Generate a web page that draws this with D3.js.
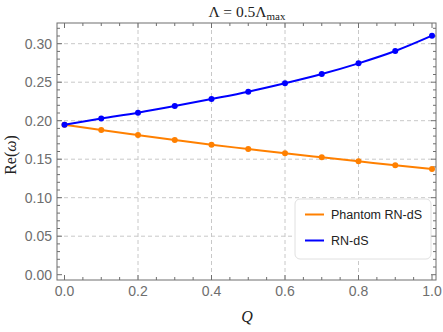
<!DOCTYPE html>
<html>
<head>
<meta charset="utf-8">
<script src="https://cdn.jsdelivr.net/npm/d3@7"></script>
<style>
  body { margin: 0; background: #fff; }
  svg { display: block; }
</style>
</head>
<body>
<div id="chart"></div>
<script>
// --- Data ---
const qValues = [0.0, 0.1, 0.2, 0.3, 0.4, 0.5, 0.6, 0.7, 0.8, 0.9, 1.0];
const rnDS = [0.1948, 0.2028, 0.2104, 0.2190, 0.2282, 0.2377, 0.2486, 0.2606, 0.2745, 0.2905, 0.3104];
const phantomRnDS = [0.1948, 0.1879, 0.1814, 0.1750, 0.1688, 0.1632, 0.1576, 0.1524, 0.1473, 0.1421, 0.1373];
const xTicks = [0.0, 0.2, 0.4, 0.6, 0.8, 1.0];
const yTicks = [0.00, 0.05, 0.10, 0.15, 0.20, 0.25, 0.30];
const xGrid = [0.2, 0.4, 0.6, 0.8];
const yGrid = [0.05, 0.10, 0.15, 0.20, 0.25, 0.30];
const seriesNames = ["Phantom RN-dS", "RN-dS"];

const width = 443, height = 332;
const frame = { left: 57, right: 436, top: 23, bottom: 280 };

const svg = d3.select("#chart").append("svg")
    .attr("width", width)
    .attr("height", height);

// scales (frame pads a bit around the data range, like Mathematica)
const x = d3.scaleLinear()
    .domain([0, 1])
    .range([64.5, 432]);
const y = d3.scaleLinear()
    .domain([0, 0.30])
    .range([274.7, 43.7]);

const gray = "#6e6e6e";
const gridColor = "#c8c8c8";

// --- Grid ---
const grid = svg.append("g");
xGrid.forEach(t => {
    grid.append("line")
        .attr("x1", x(t)).attr("x2", x(t))
        .attr("y1", frame.top).attr("y2", frame.bottom)
        .attr("stroke", gridColor).attr("stroke-dasharray", "4,3").attr("stroke-width", 1);
});
yGrid.forEach(t => {
    grid.append("line")
        .attr("x1", frame.left).attr("x2", frame.right)
        .attr("y1", y(t)).attr("y2", y(t))
        .attr("stroke", gridColor).attr("stroke-dasharray", "4,3").attr("stroke-width", 1);
});

// --- Frame ticks (all four sides) ---
const ticks = svg.append("g").attr("stroke", gray).attr("stroke-width", 1);
const xMinor = d3.range(0, 1.0001, 0.05);
xMinor.forEach(t => {
    const major = xTicks.some(m => Math.abs(m - t) < 1e-6);
    const len = major ? 5 : 3;
    const px = x(t);
    ticks.append("line").attr("x1", px).attr("x2", px).attr("y1", frame.bottom).attr("y2", frame.bottom - len);
    ticks.append("line").attr("x1", px).attr("x2", px).attr("y1", frame.top).attr("y2", frame.top + len);
});
const yMinor = d3.range(0, 0.3201, 0.01);
yMinor.forEach(t => {
    const major = yTicks.some(m => Math.abs(m - t) < 1e-6);
    const len = major ? 5 : 3;
    const py = y(t);
    ticks.append("line").attr("x1", frame.left).attr("x2", frame.left + len).attr("y1", py).attr("y2", py);
    ticks.append("line").attr("x1", frame.right).attr("x2", frame.right - len).attr("y1", py).attr("y2", py);
});

// frame rectangle
svg.append("rect")
    .attr("x", frame.left).attr("y", frame.top)
    .attr("width", frame.right - frame.left)
    .attr("height", frame.bottom - frame.top)
    .attr("fill", "none").attr("stroke", gray).attr("stroke-width", 1);

// --- Tick labels ---
const labelFont = "Liberation Sans, Arial, sans-serif";
svg.append("g").selectAll("text").data(xTicks).join("text")
    .attr("x", d => x(d)).attr("y", 296)
    .attr("text-anchor", "middle")
    .attr("font-family", labelFont).attr("font-size", 14)
    .attr("fill", gray)
    .text(d => d3.format(".1f")(d));
svg.append("g").selectAll("text").data(yTicks).join("text")
    .attr("x", 52).attr("y", d => y(d) + 5)
    .attr("text-anchor", "end")
    .attr("font-family", labelFont).attr("font-size", 14)
    .attr("fill", gray)
    .text(d => d3.format(".2f")(d));

// --- Series ---
const series = [
    { name: seriesNames[0], values: phantomRnDS, color: "#ff8000" },
    { name: seriesNames[1], values: rnDS, color: "#0000ff" }
];
const line = d3.line()
    .x((d, i) => x(qValues[i]))
    .y(d => y(d))
    .curve(d3.curveMonotoneX);

series.forEach(s => {
    svg.append("path")
        .attr("d", line(s.values))
        .attr("fill", "none")
        .attr("stroke", s.color)
        .attr("stroke-width", 2);
    svg.append("g").selectAll("circle").data(s.values).join("circle")
        .attr("cx", (d, i) => x(qValues[i]))
        .attr("cy", d => y(d))
        .attr("r", 3)
        .attr("fill", s.color);
});

// --- Legend ---
const legend = svg.append("g");
legend.append("rect")
    .attr("x", 295).attr("y", 199)
    .attr("width", 136).attr("height", 60)
    .attr("rx", 5).attr("ry", 5)
    .attr("fill", "#fff")
    .attr("stroke", "#e0e0e0").attr("stroke-width", 1);
series.forEach((s, i) => {
    const ly = 214.5 + i * 26;
    legend.append("line")
        .attr("x1", 305).attr("x2", 324)
        .attr("y1", ly).attr("y2", ly)
        .attr("stroke", s.color).attr("stroke-width", 2);
    legend.append("text")
        .attr("x", 331).attr("y", ly + 4.5)
        .attr("font-family", labelFont).attr("font-size", 12.5)
        .attr("fill", "#222")
        .text(s.name);
});

// --- Title and axis labels ---
const serif = "Liberation Serif, Times New Roman, serif";
const title = svg.append("text")
    .attr("x", 247).attr("y", 17)
    .attr("text-anchor", "middle")
    .attr("font-family", serif).attr("font-size", 15.5)
    .attr("fill", "#222");
title.append("tspan").text("Λ = 0.5Λ");
title.append("tspan").attr("font-size", 11).attr("dy", 3).text("max");

svg.append("text")
    .attr("x", 247).attr("y", 322)
    .attr("text-anchor", "middle")
    .attr("font-family", serif).attr("font-size", 16)
    .attr("font-style", "italic")
    .attr("fill", "#222")
    .text("Q");

svg.append("text")
    .attr("transform", "translate(16,155) rotate(-90)")
    .attr("text-anchor", "middle")
    .attr("font-family", serif).attr("font-size", 16)
    .attr("fill", "#222")
    .html("Re(<tspan font-style='italic'>ω</tspan>)");
</script>
</body>
</html>
